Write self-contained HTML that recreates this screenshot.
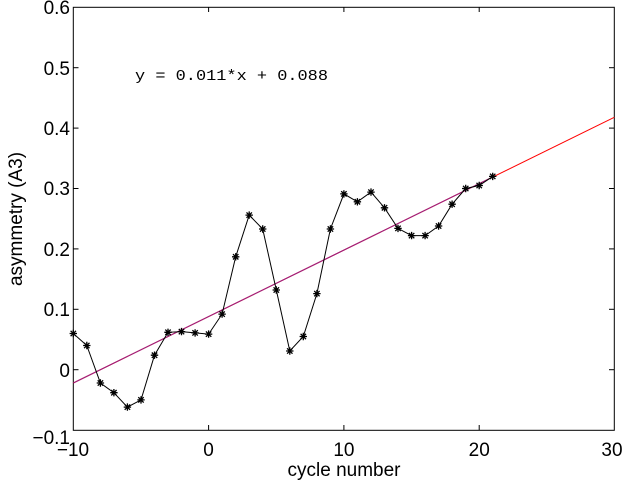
<!DOCTYPE html>
<html><head><style>body{margin:0;background:#fff}svg{display:block}</style></head><body>
<svg width="626" height="484" viewBox="0 0 626 484" xmlns="http://www.w3.org/2000/svg" font-family="Liberation Sans, sans-serif">
<defs>
<marker id="st" markerWidth="10" markerHeight="10" refX="5" refY="5" markerUnits="userSpaceOnUse" overflow="visible">
<path d="M1.3 5h7.4M5 1.3v7.4M2.3 2.3l5.4 5.4M2.3 7.7l5.4 -5.4" stroke="#000" stroke-width="1.3" fill="none"/>
</marker>
</defs>
<rect x="73.3" y="7.3" width="541" height="423" fill="none" stroke="#000" stroke-width="1"/>
<g stroke="#000" stroke-width="1">
<line x1="208.6" y1="430.3" x2="208.6" y2="425"/><line x1="343.9" y1="430.3" x2="343.9" y2="425"/><line x1="479.2" y1="430.3" x2="479.2" y2="425"/>
<line x1="208.6" y1="7.3" x2="208.6" y2="12"/><line x1="343.9" y1="7.3" x2="343.9" y2="12"/><line x1="479.2" y1="7.3" x2="479.2" y2="12"/>
<line x1="73.3" y1="67.7" x2="78.5" y2="67.7"/><line x1="73.3" y1="128.1" x2="78.5" y2="128.1"/><line x1="73.3" y1="188.5" x2="78.5" y2="188.5"/><line x1="73.3" y1="248.9" x2="78.5" y2="248.9"/><line x1="73.3" y1="309.3" x2="78.5" y2="309.3"/><line x1="73.3" y1="369.7" x2="78.5" y2="369.7"/>
<line x1="614.3" y1="67.7" x2="609" y2="67.7"/><line x1="614.3" y1="128.1" x2="609" y2="128.1"/><line x1="614.3" y1="188.5" x2="609" y2="188.5"/><line x1="614.3" y1="248.9" x2="609" y2="248.9"/><line x1="614.3" y1="309.3" x2="609" y2="309.3"/><line x1="614.3" y1="369.7" x2="609" y2="369.7"/>
</g>
<g font-size="19" text-anchor="end">
<text x="70" y="14">0.6</text><text x="70" y="75">0.5</text><text x="70" y="135">0.4</text><text x="70" y="195">0.3</text><text x="70" y="256">0.2</text><text x="70" y="316">0.1</text><text x="70" y="377">0</text><text x="70" y="444">−0.1</text>
</g>
<g font-size="19" text-anchor="middle">
<text x="73" y="456">−10</text><text x="208.6" y="456">0</text><text x="343.9" y="456">10</text><text x="479.2" y="456">20</text><text x="612" y="456">30</text>
<text x="344" y="476" font-size="19">cycle number</text>
</g>
<text transform="translate(22,219) rotate(-90)" font-size="19" text-anchor="middle">asymmetry (A3)</text>
<text x="135" y="80" font-family="Liberation Mono, monospace" font-size="15" textLength="193" lengthAdjust="spacingAndGlyphs">y = 0.011*x + 0.088</text>
<line x1="73.3" y1="383" x2="614.3" y2="117.3" stroke="#f00" stroke-width="1"/>
<line x1="73.3" y1="383" x2="492.7" y2="177" stroke="#a0207a" stroke-width="1.2"/>
<polyline fill="none" stroke="#000" stroke-width="1" marker-start="url(#st)" marker-mid="url(#st)" marker-end="url(#st)" points="73.3,333.5 86.8,345.5 100.4,383.0 113.9,392.7 127.4,407.1 141.0,399.9 154.5,355.2 168.0,332.3 181.5,331.6 195.1,332.9 208.6,334.1 222.1,314.1 235.7,256.8 249.2,215.1 262.7,229.0 276.3,290.0 289.8,351.0 303.3,336.5 316.9,293.6 330.4,229.0 343.9,193.9 357.4,201.8 371.0,192.1 384.5,207.8 398.0,228.4 411.6,235.6 425.1,235.6 438.6,226.0 452.1,204.2 465.7,188.5 479.2,185.5 492.7,176.4"/>
</svg>
</body></html>
